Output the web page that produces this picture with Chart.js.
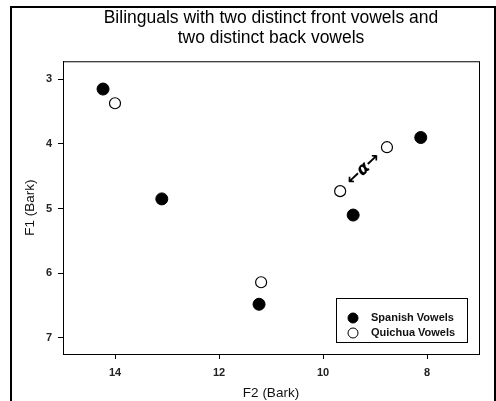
<!DOCTYPE html>
<html>
<head>
<meta charset="utf-8">
<script src="https://cdn.jsdelivr.net/npm/chart.js@4.4.1/dist/chart.umd.min.js"></script>
<style>
  html, body { margin: 0; padding: 0; background: #fff; }
  #wrap { position: absolute; left: 0; top: 0; width: 496px; height: 401px; }
</style>
</head>
<body>
<div id="wrap"><canvas id="vowelChart" width="496" height="401"></canvas></div>
<script>
// Vowel positions (F2 on x, F1 on y, both in Bark)
const spanishF2 = [14.23, 13.10, 11.23, 9.42, 8.12];
const spanishF1 = [3.15, 4.85, 6.48, 5.10, 3.90];
const quichuaF2 = [14.00, 11.19, 9.67, 8.77];
const quichuaF1 = [3.37, 6.14, 4.73, 4.05];

const xTicks = [14, 12, 10, 8];
const yTicks = [3, 4, 5, 6, 7];

const seriesLabels = ['Spanish Vowels', 'Quichua Vowels'];

const FONT = '"Liberation Sans", Arial, sans-serif';

function toPoints(xs, ys) {
    return xs.map((x, i) => ({ x: x, y: ys[i] }));
}

// outer frame of the figure (left, top, right only - bottom is cut off)
const framePlugin = {
    id: 'frame',
    beforeDraw(chart) {
        const ctx = chart.ctx;
        ctx.save();
        ctx.fillStyle = '#fff';
        ctx.fillRect(0, 0, chart.width, chart.height);
        ctx.strokeStyle = '#000';
        ctx.lineWidth = 2;
        ctx.beginPath();
        ctx.moveTo(11, chart.height);
        ctx.lineTo(11, 7);
        ctx.lineTo(495, 7);
        ctx.lineTo(495, chart.height);
        ctx.stroke();
        ctx.restore();
    },
    afterDraw(chart) {
        const a = chart.chartArea;
        const ctx = chart.ctx;
        ctx.save();
        ctx.strokeStyle = '#000';
        ctx.lineWidth = 1;
        ctx.strokeRect(a.left + 0.5, a.top + 0.5, a.right - a.left, a.bottom - a.top);
        ctx.restore();
    }
};

// "<-α->" note between the two Quichua back vowels
const notePlugin = {
    id: 'note',
    afterDatasetsDraw(chart) {
        const xs = chart.scales.x, ys = chart.scales.y;
        const x1 = xs.getPixelForValue(quichuaF2[2]), y1 = ys.getPixelForValue(quichuaF1[2]);
        const x2 = xs.getPixelForValue(quichuaF2[3]), y2 = ys.getPixelForValue(quichuaF1[3]);
        const ctx = chart.ctx;
        ctx.save();
        ctx.translate((x1 + x2) / 2, (y1 + y2) / 2);
        ctx.rotate(Math.atan2(y2 - y1, x2 - x1));
        ctx.font = 'bold italic 17px "DejaVu Sans"';
        ctx.fillStyle = '#000';
        ctx.textAlign = 'center';
        ctx.textBaseline = 'middle';
        ctx.fillText('←α→', 0, 0);
        ctx.restore();
    }
};

// boxed legend in the lower right of the plot
const boxLegendPlugin = {
    id: 'boxLegend',
    afterDraw(chart) {
        const a = chart.chartArea;
        const ctx = chart.ctx;
        const w = 131, h = 44;
        const left = a.right - 12 - w;
        const top = a.bottom - 12 - h;
        ctx.save();
        ctx.fillStyle = '#fff';
        ctx.fillRect(left, top, w, h);
        ctx.strokeStyle = '#000';
        ctx.lineWidth = 1;
        ctx.strokeRect(left + 0.5, top + 0.5, w, h);
        ctx.font = 'bold 11px ' + FONT;
        ctx.textBaseline = 'middle';
        chart.data.datasets.forEach((ds, i) => {
            const cy = top + 20 + i * 15;
            ctx.beginPath();
            ctx.arc(left + 17, cy, 5, 0, Math.PI * 2);
            ctx.fillStyle = ds.backgroundColor;
            ctx.fill();
            ctx.strokeStyle = '#000';
            ctx.lineWidth = 1;
            ctx.stroke();
            ctx.fillStyle = '#111';
            ctx.fillText(ds.label, left + 35, cy);
        });
        ctx.restore();
    }
};

const ctx = document.getElementById('vowelChart').getContext('2d');
new Chart(ctx, {
    type: 'scatter',
    data: {
        datasets: [{
            label: seriesLabels[0],
            data: toPoints(spanishF2, spanishF1),
            backgroundColor: '#000',
            borderColor: '#000',
            borderWidth: 1,
            pointRadius: 6
        }, {
            label: seriesLabels[1],
            data: toPoints(quichuaF2, quichuaF1),
            backgroundColor: '#fff',
            borderColor: '#000',
            borderWidth: 1.2,
            pointRadius: 5.5
        }]
    },
    plugins: [framePlugin, notePlugin, boxLegendPlugin],
    options: {
        responsive: false,
        animation: false,
        layout: {
            padding: { left: 0, right: 17, top: 0, bottom: 0 }
        },
        plugins: {
            legend: { display: false },
            tooltip: { enabled: false },
            title: {
                display: true,
                fullSize: false,
                text: ['Bilinguals with two distinct front vowels and', 'two distinct back vowels'],
                color: '#000',
                font: { family: FONT, size: 17.5, weight: 'normal', lineHeight: 1.15 },
                padding: { top: 8, bottom: 13 }
            }
        },
        scales: {
            x: {
                type: 'linear',
                reverse: true,
                min: 7,
                max: 15,
                afterBuildTicks: s => { s.ticks = xTicks.map(v => ({ value: v })); },
                afterFit: s => { s.height = 47; },
                border: { display: true, color: '#000', width: 1 },
                grid: { drawOnChartArea: false, drawTicks: true, tickLength: 5, color: '#000' },
                ticks: {
                    color: '#222',
                    padding: 7,
                    font: { family: FONT, size: 11, weight: 'bold' }
                },
                title: {
                    display: true,
                    text: 'F2 (Bark)',
                    color: '#111',
                    padding: { top: 0, bottom: 0 },
                    font: { family: FONT, size: 13.5 }
                }
            },
            y: {
                type: 'linear',
                reverse: true,
                min: 2.72,
                max: 7.25,
                afterBuildTicks: s => { s.ticks = yTicks.map(v => ({ value: v })); },
                afterFit: s => { s.width = 63; },
                border: { display: true, color: '#000', width: 1 },
                grid: { drawOnChartArea: false, drawTicks: true, tickLength: 5, color: '#000' },
                ticks: {
                    color: '#222',
                    padding: 6,
                    font: { family: FONT, size: 11, weight: 'bold' }
                },
                title: {
                    display: true,
                    text: 'F1 (Bark)',
                    color: '#111',
                    padding: { top: 22, bottom: 0 },
                    font: { family: FONT, size: 13.5 }
                }
            }
        }
    }
});
</script>
</body>
</html>
